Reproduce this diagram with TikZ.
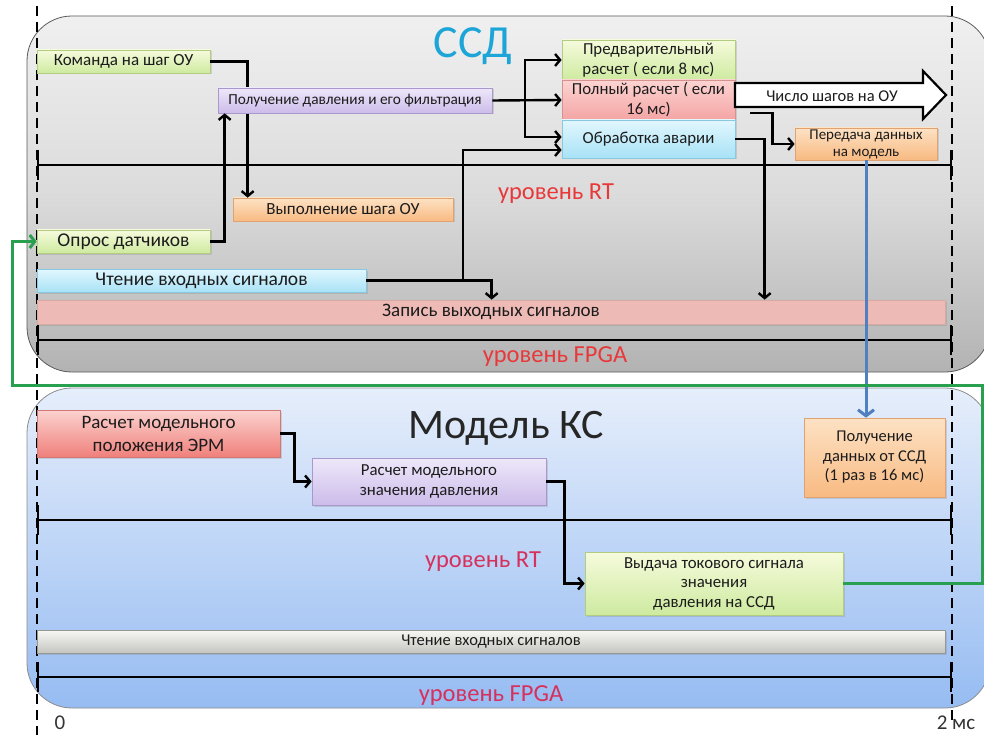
\documentclass[tikz,border=0pt]{standalone}
\usepackage{fontspec}
\setmainfont{Carlito}
\usetikzlibrary{arrows.meta,calc,shadows}

\definecolor{ssdblue}{RGB}{30,165,215}
\definecolor{rtred}{RGB}{232,56,58}
\definecolor{rtcrimson}{RGB}{214,48,92}
\definecolor{gtop}{RGB}{246,251,220}
\definecolor{gbot}{RGB}{206,234,160}
\definecolor{gbd}{RGB}{178,204,128}
\definecolor{ptop}{RGB}{238,232,250}
\definecolor{pbot}{RGB}{204,188,234}
\definecolor{pbd}{RGB}{170,152,204}
\definecolor{rtop}{RGB}{252,212,210}
\definecolor{rbot}{RGB}{244,164,164}
\definecolor{rbd}{RGB}{214,146,142}
\definecolor{ctop}{RGB}{226,247,254}
\definecolor{cbot}{RGB}{168,226,246}
\definecolor{cbd}{RGB}{136,200,224}
\definecolor{otop}{RGB}{253,226,196}
\definecolor{obot}{RGB}{248,186,130}
\definecolor{obd}{RGB}{224,162,112}
\definecolor{wrfill}{RGB}{238,186,182}
\definecolor{wrbd}{RGB}{214,170,160}
\definecolor{etop}{RGB}{252,210,206}
\definecolor{ebot}{RGB}{240,128,124}
\definecolor{ebd}{RGB}{210,120,116}
\definecolor{stop}{RGB}{248,248,244}
\definecolor{sbot}{RGB}{196,196,192}
\definecolor{sbd}{RGB}{150,150,146}
\definecolor{linkblue}{RGB}{80,128,192}
\definecolor{linkgreen}{RGB}{40,160,80}
\definecolor{boxtext}{RGB}{28,28,28}

\newcommand\fsz[2]{\fontsize{#1pt}{#2pt}\selectfont}

\tikzset{
  box/.style={draw, line width=0.7pt, inner sep=0pt, align=center, text=boxtext,
    drop shadow={opacity=0.25, shadow xshift=1.5pt, shadow yshift=-1.5pt}},
  gbox/.style={box, draw=gbd, top color=gtop, bottom color=gbot},
  pbox/.style={box, draw=pbd, top color=ptop, bottom color=pbot},
  rbox/.style={box, draw=rbd, top color=rtop, bottom color=rbot},
  cbox/.style={box, draw=cbd, top color=ctop, bottom color=cbot},
  obox/.style={box, draw=obd, top color=otop, bottom color=obot},
  ebox/.style={box, draw=ebd, top color=etop, bottom color=ebot},
  sbox/.style={box, draw=sbd, top color=stop, bottom color=sbot},
  wbox/.style={box, draw=wrbd, fill=wrfill},
  conn/.style={draw=black, line width=2.4pt, -{Straight Barb[length=5pt,width=12pt]}},
  bluelink/.style={draw=linkblue, line width=3pt, -{Straight Barb[length=6pt,width=16pt]}},
  greenlink/.style={draw=linkgreen, line width=3pt, -{Straight Barb[length=5pt,width=13pt]}},
  dashline/.style={draw=black, line width=2.2pt, dash pattern=on 10pt off 6pt},
  tline/.style={draw=black, line width=2.3pt, {Bar[width=30pt]}-{Bar[width=30pt]}},
  lvlup/.style={text=rtred, font=\fsz{24.5}{25}},
  lvldn/.style={text=rtcrimson, font=\fsz{24.5}{25}},
  tick/.style={font=\fsz{21}{21}, text=black!80, anchor=base, inner sep=0pt},
}

\begin{document}
\begin{tikzpicture}[x=1pt,y=-1pt]
\useasboundingbox (0,0) rectangle (984,735);

% panels
\path[draw=black!65, line width=0.8pt, rounded corners=45pt,
  top color=black!6, bottom color=black!30, middle color=black!14]
  (27,16) rectangle (990,372);
\path[draw=black!45, line width=0.8pt, rounded corners=45pt,
  top color={rgb,255:red,230;green,238;blue,251},
  middle color={rgb,255:red,196;green,216;blue,246},
  bottom color={rgb,255:red,150;green,188;blue,242}]
  (27,388) rectangle (990,708);

% time marks
\draw[dashline] (37,6) -- (37,735);
\draw[dashline] (952,6) -- (952,722);
\node[tick] (t0) at (60,729) {0};
\node[tick] (t2) at (956,729) {2 мс};

% level boundaries
\draw[tline] (37,165) -- (952,165);
\draw[tline] (37,340) -- (952,340);
\draw[tline] (37,520) -- (952,520);
\draw[tline] (37,677) -- (952,677);

% titles and level names
\node[font=\fsz{46}{46}, text=ssdblue] (ssd) at (473,46) {ССД};
\node[font=\fsz{42}{42}, text=black!85] (model) at (506,428) {Модель КС};
\node[lvlup] (rt1) at (556,194) {уровень RT};
\node[lvlup] (fpga1) at (555,357) {уровень FPGA};
\node[lvldn] (rt2) at (483,562) {уровень RT};
\node[lvldn] (fpga2) at (491,696) {уровень FPGA};

% coordinates for junctions
\coordinate (br1) at (525,100);
\coordinate (br2) at (463,280);

% ---- upper block: control unit ----
\path (123.5,61.5) node[gbox, minimum width=173pt, minimum height=23pt, font=\fsz{17}{20}] (cmd) {Команда на шаг ОУ};
\path (343,209.5) node[obox, minimum width=220pt, minimum height=23pt, font=\fsz{17}{20}] (exec) {Выполнение шага ОУ};
\path (201.5,280.5) node[cbox, minimum width=329pt, minimum height=23pt, font=\fsz{19.5}{22}] (rd) {Чтение входных сигналов};
\path (491,312) node[wbox, minimum width=908pt, minimum height=24pt, font=\fsz{19}{21}] (wr) {Запись выходных сигналов};

% connectors behind the boxes
\draw[conn] (cmd.east) -| ($(exec.north west)+(15,0)$);

\path (355,100.5) node[pbox, minimum width=274pt, minimum height=25pt, font=\fsz{15.3}{18}] (filt) {Получение давления и его фильтрация};
\path (123.5,241.5) node[gbox, minimum width=173pt, minimum height=23pt, font=\fsz{19.5}{21}] (poll) {Опрос датчиков};
\path (648.5,60) node[gbox, minimum width=173pt, minimum height=40pt, font=\fsz{16.8}{20}] (pre) {Предварительный\\расчет ( если 8 мс)};
\path (648.5,100) node[rbox, minimum width=173pt, minimum height=40pt, font=\fsz{16.8}{20}] (full) {Полный расчет ( если\\16 мс)};
\path (648.5,139) node[cbox, minimum width=173pt, minimum height=38pt, font=\fsz{16.8}{20}] (avar) {Обработка аварии};
\path (866,144) node[obox, minimum width=142pt, minimum height=32pt, font=\fsz{15}{17}] (xfer) {Передача данных\\на модель};

\draw[conn] (poll.east) -| ($(filt.south west)+(7,0)$);
\draw[conn] (filt.east) -- (full.west);
\draw[conn] (br1) |- (pre.west);
\draw[conn] (br1) |- ($(avar.west)+(0,-2)$);
\draw[conn] (rd.east) -| ($(wr.north west)+(455,0)$);
\draw[conn] (br2) |- ($(avar.west)+(0,11)$);
\draw[conn] (avar.east) -| ($(wr.north west)+(728,0)$);
\draw[conn] ($(full.east)+(15,13)$) -| ($(xfer.west)+(-22,0)$) -- (xfer.west);

% step count output
\path[draw=black, line width=2.2pt, fill=white, line join=miter]
  (735,83) -- (923,83) -- (923,71) -- (946,95) -- (923,119) -- (923,107) -- (735,107) -- cycle;
\node[font=\fsz{16.5}{18}, text=boxtext] (steps) at (832,96) {Число шагов на ОУ};

% ---- lower block: plant model ----
\path (158.5,433.5) node[ebox, minimum width=243pt, minimum height=47pt, font=\fsz{19}{23}] (pos) {Расчет модельного\\положения ЭРМ};
\path (429,481.5) node[pbox, minimum width=234pt, minimum height=47pt, font=\fsz{16.8}{20}] (prs) {Расчет модельного\\значения давления};
\path (874.5,457.5) node[obox, minimum width=141pt, minimum height=79pt, font=\fsz{16.5}{19.5}] (recv) {Получение\\данных от ССД\\(1 раз в 16 мс)};
\path (714,583.5) node[gbox, minimum width=258pt, minimum height=63pt, font=\fsz{16.8}{19.5}] (out) {Выдача токового сигнала\\значения\\давления на ССД};
\path (491,641.5) node[sbox, minimum width=908pt, minimum height=23pt, font=\fsz{16.5}{19}] (rd2) {Чтение входных сигналов};

\draw[conn] (pos.east) -| ($(prs.west)+(-17,0)$) -- (prs.west);
\draw[conn] (prs.east) -| ($(out.west)+(-20,0)$) -- (out.west);

% links between the two blocks
\draw[bluelink] (xfer.south) -- (xfer.south |- recv.north);
\draw[greenlink] (out.east) -| (982,385) -| (12,241.5) -- (poll.west);

\end{tikzpicture}
\end{document}
